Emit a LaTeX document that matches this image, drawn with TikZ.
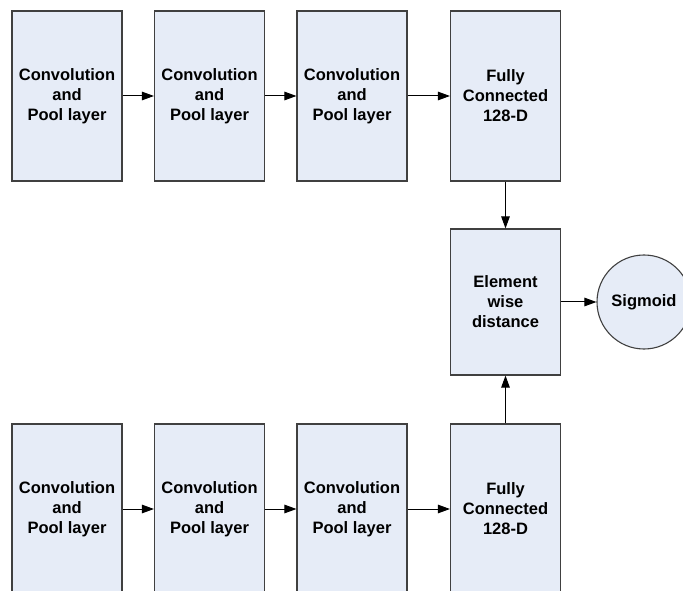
\documentclass[tikz,border=0pt]{standalone}
\usepackage{fontspec}
\setmainfont{Liberation Sans}
\usetikzlibrary{arrows.meta}
\definecolor{boxfill}{RGB}{230,236,247}
\definecolor{boxline}{RGB}{64,64,64}
\tikzset{
  layer/.style={draw=boxline, line width=1.1pt, fill=boxfill, inner sep=0pt,
    minimum width=110pt, minimum height=170pt, align=center,
    font=\fontsize{16.5}{20}\selectfont\bfseries},
  midbox/.style={layer, minimum height=146pt},
  outnode/.style={circle, draw=boxline, line width=1.1pt, fill=boxfill, inner sep=0pt,
    minimum size=94pt, font=\fontsize{16.5}{20}\selectfont\bfseries},
  flow/.style={draw=black, line width=1pt, -{Triangle[length=12pt,width=8.5pt]}}
}
\begin{document}
\begin{tikzpicture}[x=1pt,y=1pt]
\useasboundingbox (0,0) rectangle (683,590);
\clip (0,0) rectangle (683,590);
\fill[white] (0,0) rectangle (683,590);
% upper branch
\node[layer] (t1) at (67,494) {Convolution\\and\\Pool layer};
\node[layer] (t2) at (209.5,494) {Convolution\\and\\Pool layer};
\node[layer] (t3) at (352,494) {Convolution\\and\\Pool layer};
\node[layer] (t4) at (505.5,494) {Fully\\Connected\\128-D};
% lower branch
\node[layer] (b1) at (67,81) {Convolution\\and\\Pool layer};
\node[layer] (b2) at (209.5,81) {Convolution\\and\\Pool layer};
\node[layer] (b3) at (352,81) {Convolution\\and\\Pool layer};
\node[layer] (b4) at (505.5,81) {Fully\\Connected\\128-D};
% merge and output
\node[midbox] (d) at (505.5,288) {Element\\wise\\distance};
\node[outnode] (s) at (644,288) {Sigmoid};
% connectors
\draw[flow] (t1) -- (t2);
\draw[flow] (t2) -- (t3);
\draw[flow] (t3) -- (t4);
\draw[flow] (b1) -- (b2);
\draw[flow] (b2) -- (b3);
\draw[flow] (b3) -- (b4);
\draw[flow] (t4) -- (d);
\draw[flow] (b4) -- (d);
\draw[flow] (d) -- (s);
\end{tikzpicture}
\end{document}
